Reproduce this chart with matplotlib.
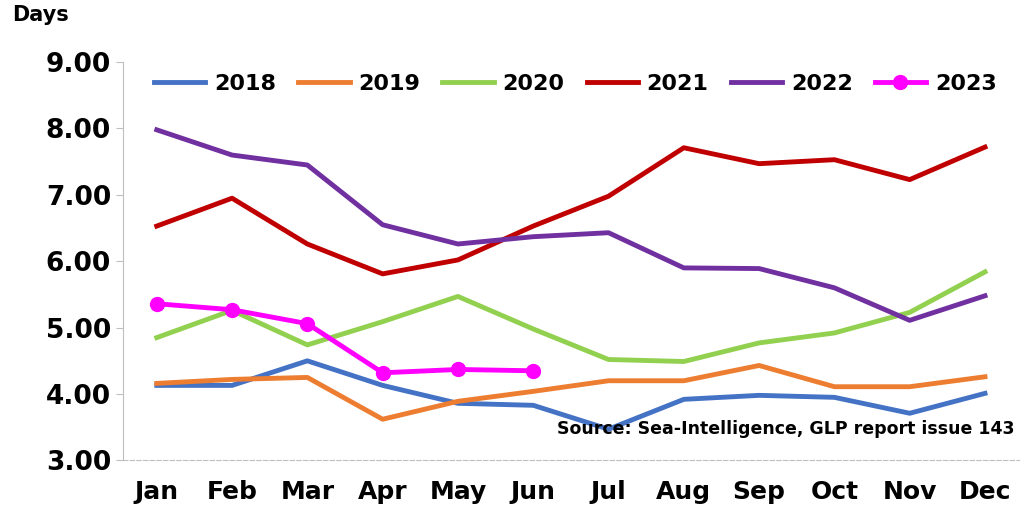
import matplotlib.pyplot as plt

# Monthly values
months = ["Jan", "Feb", "Mar", "Apr", "May", "Jun", "Jul", "Aug", "Sep", "Oct", "Nov", "Dec"]
y2018 = [4.13, 4.13, 4.50, 4.13, 3.86, 3.83, 3.47, 3.92, 3.98, 3.95, 3.71, 4.01]
y2019 = [4.16, 4.22, 4.25, 3.62, 3.89, 4.04, 4.20, 4.20, 4.43, 4.11, 4.11, 4.26]
y2020 = [4.85, 5.26, 4.74, 5.09, 5.47, 4.98, 4.52, 4.49, 4.77, 4.92, 5.23, 5.84]
y2021 = [6.53, 6.95, 6.26, 5.81, 6.02, 6.53, 6.98, 7.71, 7.47, 7.53, 7.23, 7.72]
y2022 = [7.98, 7.60, 7.45, 6.55, 6.26, 6.37, 6.43, 5.90, 5.89, 5.60, 5.11, 5.48]
y2023 = [5.36, 5.27, 5.06, 4.32, 4.37, 4.35]

plt.rcParams["font.family"] = "DejaVu Sans"
plt.rcParams["font.weight"] = "bold"

fig = plt.figure(figsize=(10.24, 5.22), dpi=100)
ax = fig.add_axes([0.12, 0.118, 0.875, 0.763])

x = list(range(len(months)))
ax.plot(x, y2018, color="#4472C4", lw=3.5, label="2018")
ax.plot(x, y2019, color="#ED7D31", lw=3.5, label="2019")
ax.plot(x, y2020, color="#92D050", lw=3.5, label="2020")
ax.plot(x, y2021, color="#C00000", lw=3.5, label="2021")
ax.plot(x, y2022, color="#7030A0", lw=3.5, label="2022")
ax.plot(x[:len(y2023)], y2023, color="#FF00FF", lw=3.5, marker="o", ms=10, label="2023")

ax.set_xlim(-0.45, 11.45)
ax.set_ylim(3.0, 9.0)
ax.set_yticks([3, 4, 5, 6, 7, 8, 9])
ax.set_yticklabels([f"{v:.2f}" for v in [3, 4, 5, 6, 7, 8, 9]], fontsize=19, fontweight="bold")
ax.set_xticks(x)
ax.set_xticklabels(months, fontsize=18, fontweight="bold")
ax.tick_params(axis="x", length=0, pad=14)
ax.tick_params(axis="y", length=5, color="#bfbfbf")

for s in ["top", "right"]:
    ax.spines[s].set_visible(False)
ax.spines["left"].set_color("#bfbfbf")
ax.spines["bottom"].set_color("#bfbfbf")
ax.spines["bottom"].set_linestyle((0, (4, 2)))

ax.legend(loc="upper center", ncol=6, frameon=False, handlelength=2.3, handletextpad=0.4,
          columnspacing=1.0, bbox_to_anchor=(0.505, 1.02), prop={"weight": "bold", "size": 16})

fig.text(0.012, 0.96, "Days", fontsize=15, fontweight="bold")
ax.text(0.995, 0.055, "Source: Sea-Intelligence, GLP report issue 143", transform=ax.transAxes,
        ha="right", va="bottom", fontsize=12.5, fontweight="bold")

fig.savefig("out.png", dpi=100)
